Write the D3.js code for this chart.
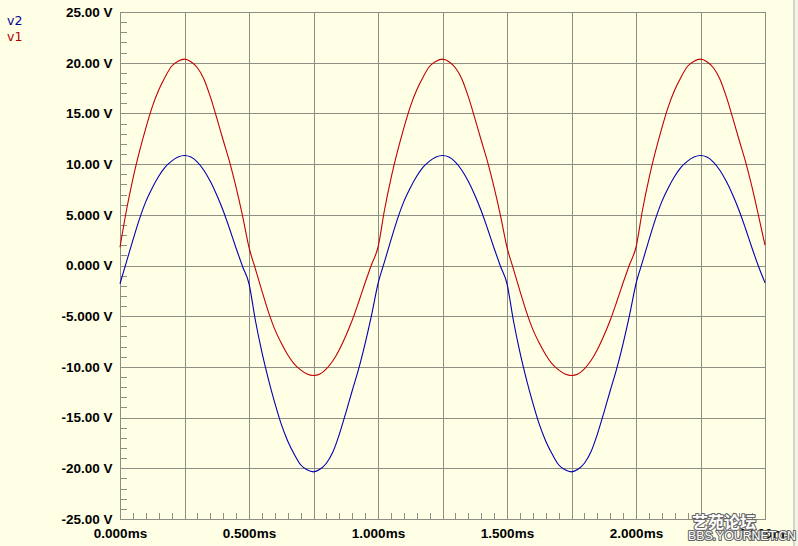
<!DOCTYPE html>
<html>
<head>
<meta charset="utf-8">
<script src="https://cdn.jsdelivr.net/npm/d3@7"></script>
<style>
  html, body { margin: 0; padding: 0; background: #FFFFE6; }
  svg { display: block; }
</style>
</head>
<body>
<svg id="chart" width="798" height="546"></svg>
<script>
// ---- data ----
const timeStepMs = 0.025;            // sample spacing, ms
const seriesNames = ["v2", "v1"];
const v1 = [
  1.8, 5.45, 8.55, 11.2, 13.55, 15.65, 17.3, 18.6, 19.65, 20.15, 20.35, 20.1, 19.5, 18.4, 16.65, 14.55, 12.35, 10.2, 7.7, 4.9,
  1.8, -0.35, -2.5, -4.55, -6.3, -7.65, -8.8, -9.7, -10.3, -10.7, -10.85, -10.7, -10.2, -9.4, -8.3, -6.95, -5.4, -3.6, -1.7, 0.1,
  1.8, 5.45, 8.55, 11.2, 13.55, 15.65, 17.3, 18.6, 19.65, 20.15, 20.35, 20.1, 19.5, 18.4, 16.65, 14.55, 12.35, 10.2, 7.7, 4.9,
  1.8, -0.35, -2.5, -4.55, -6.3, -7.65, -8.8, -9.7, -10.3, -10.7, -10.85, -10.7, -10.2, -9.4, -8.3, -6.95, -5.4, -3.6, -1.7, 0.1,
  1.8, 5.45, 8.55, 11.2, 13.55, 15.65, 17.3, 18.6, 19.65, 20.15, 20.35, 20.1, 19.5, 18.4, 16.65, 14.55, 12.35, 10.2, 7.7, 4.9,
  2.0
];
const v2 = [
  -1.8, 0.35, 2.5, 4.55, 6.3, 7.65, 8.8, 9.7, 10.3, 10.7, 10.85, 10.7, 10.2, 9.4, 8.3, 6.95, 5.4, 3.6, 1.7, -0.1,
  -1.8, -5.45, -8.55, -11.2, -13.55, -15.65, -17.3, -18.6, -19.65, -20.15, -20.35, -20.1, -19.5, -18.4, -16.65, -14.55, -12.35, -10.2, -7.7, -4.9,
  -1.8, 0.35, 2.5, 4.55, 6.3, 7.65, 8.8, 9.7, 10.3, 10.7, 10.85, 10.7, 10.2, 9.4, 8.3, 6.95, 5.4, 3.6, 1.7, -0.1,
  -1.8, -5.45, -8.55, -11.2, -13.55, -15.65, -17.3, -18.6, -19.65, -20.15, -20.35, -20.1, -19.5, -18.4, -16.65, -14.55, -12.35, -10.2, -7.7, -4.9,
  -1.8, 0.35, 2.5, 4.55, 6.3, 7.65, 8.8, 9.7, 10.3, 10.7, 10.85, 10.7, 10.2, 9.4, 8.3, 6.95, 5.4, 3.6, 1.7, -0.1,
  -1.7
];
const yTicks = [25, 20, 15, 10, 5, 0, -5, -10, -15, -20, -25];
const yTickLabels = ["25.00 V", "20.00 V", "15.00 V", "10.00 V", "5.000 V", "0.000 V",
                     "-5.000 V", "-10.00 V", "-15.00 V", "-20.00 V", "-25.00 V"];
const xGrid = [0, 0.25, 0.5, 0.75, 1.0, 1.25, 1.5, 1.75, 2.0, 2.25, 2.5];
const xTicks = [0, 0.5, 1.0, 1.5, 2.0, 2.5];
const xTickLabels = ["0.000ms", "0.500ms", "1.000ms", "1.500ms", "2.000ms", "2.500ms"];
const watermark = ["艺苑论坛", "BBS.YOURNET.CN"];

// ---- drawing ----
const svg = d3.select("#chart");
const x = d3.scaleLinear().domain([0, 2.5]).range([120, 765]);
const y = d3.scaleLinear().domain([-25, 25]).range([519, 12]);
const gridColor = "#8e8e84";

// frame edge at right
svg.append("rect").attr("x", 795).attr("y", 0).attr("width", 3).attr("height", 546).attr("fill", "#f3f3e6");
svg.append("rect").attr("x", 793).attr("y", 0).attr("width", 2).attr("height", 546).attr("fill", "#d4d4cc");

const grid = svg.append("g").attr("shape-rendering", "crispEdges").attr("stroke", gridColor).attr("stroke-width", 1);
// horizontal grid
grid.selectAll("line.h").data(yTicks).join("line")
  .attr("x1", x(0)).attr("x2", x(2.5))
  .attr("y1", d => Math.round(y(d)) + 0.5).attr("y2", d => Math.round(y(d)) + 0.5);
// vertical grid
grid.selectAll("line.v").data(xGrid).join("line")
  .attr("y1", y(25)).attr("y2", y(-25) + 1)
  .attr("x1", d => Math.round(x(d)) + 0.5).attr("x2", d => Math.round(x(d)) + 0.5);

// minor ticks
const yMinor = d3.range(-25, 26, 1).filter(v => v % 5 !== 0);
grid.selectAll("line.ym").data(yMinor).join("line")
  .attr("x1", x(0)).attr("x2", x(0) + 7)
  .attr("y1", d => Math.round(y(d)) + 0.5).attr("y2", d => Math.round(y(d)) + 0.5);
const xMinor = d3.range(0, 51, 1).map(i => i * 0.05).filter(t => Math.abs(t / 0.25 - Math.round(t / 0.25)) > 1e-6);
grid.selectAll("line.xm").data(xMinor).join("line")
  .attr("y1", Math.round(y(-25)) + 0.5).attr("y2", Math.round(y(-25)) - 6.5)
  .attr("x1", d => Math.round(x(d)) + 0.5).attr("x2", d => Math.round(x(d)) + 0.5);

// y labels
svg.append("g").selectAll("text").data(yTicks).join("text")
  .attr("x", 112.5).attr("y", d => y(d)).attr("dy", "0.36em")
  .attr("text-anchor", "end")
  .attr("font-family", "'Liberation Sans', Arial, sans-serif")
  .attr("font-weight", "bold").attr("font-size", "13.5px").attr("fill", "#000")
  .text((d, i) => yTickLabels[i]);

// x labels
svg.append("g").selectAll("text").data(xTicks).join("text")
  .attr("x", d => x(d) + 0.5).attr("y", 537.5)
  .attr("text-anchor", "middle")
  .attr("font-family", "'Liberation Sans', Arial, sans-serif")
  .attr("font-weight", "bold").attr("font-size", "13.5px").attr("fill", "#000")
  .text((d, i) => xTickLabels[i]);

// series lines
const times = v1.map((_, i) => i * timeStepMs);
const line = d3.line().x((d, i) => x(times[i])).y(d => y(d)).curve(d3.curveMonotoneX);
svg.append("path").datum(v1).attr("d", line).attr("fill", "none").attr("stroke", "#c00000").attr("stroke-width", 1.1);
svg.append("path").datum(v2).attr("d", line).attr("fill", "none").attr("stroke", "#0000b0").attr("stroke-width", 1.1);

// legend
const legendColors = ["#000090", "#b00000"];
svg.append("g").selectAll("text").data(seriesNames).join("text")
  .attr("x", 7).attr("y", (d, i) => 24.5 + i * 16)
  .attr("font-family", "'DejaVu Sans', Verdana, sans-serif")
  .attr("font-size", "12.5px").attr("fill", (d, i) => legendColors[i])
  .text(d => d);

// watermark
const wm = svg.append("g").attr("fill", "#ffffff").attr("stroke", "#666666").attr("stroke-width", 2.2)
  .attr("paint-order", "stroke").attr("stroke-linejoin", "round");
wm.append("text").attr("x", 724).attr("y", 527.5).attr("text-anchor", "middle")
  .attr("font-family", "'Noto Sans CJK SC', sans-serif").attr("font-weight", "bold").attr("font-size", "16px")
  .text(watermark[0]);
wm.append("text").attr("x", 742).attr("y", 539.5).attr("text-anchor", "middle")
  .attr("font-family", "'Liberation Sans', Arial, sans-serif").attr("font-size", "12.5px")
  .attr("textLength", 108).attr("lengthAdjust", "spacingAndGlyphs")
  .text(watermark[1]);
</script>
</body>
</html>
